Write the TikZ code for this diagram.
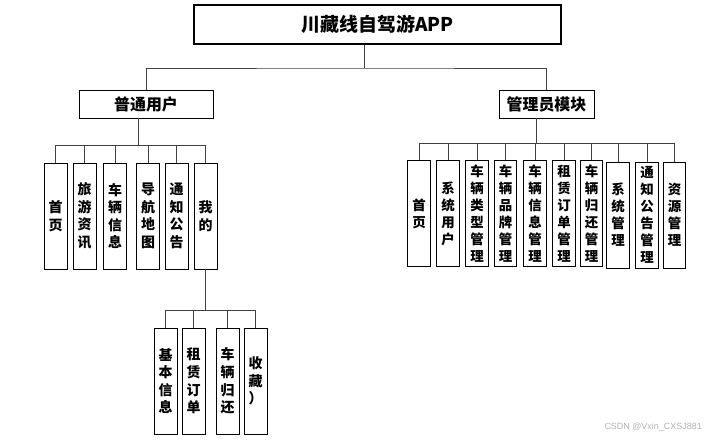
\documentclass[tikz,border=0pt]{standalone}
\usepackage{fontspec}
\setmainfont{Noto Sans CJK SC}
\setsansfont{Liberation Sans}
\begin{document}
\begin{tikzpicture}[x=1bp,y=-1bp,
  box/.style={draw=black,line width=0.9bp,fill=white,inner sep=0pt,font=\bfseries},
  vbox/.style={box,minimum width=23bp,minimum height=106bp,align=center,
    font=\bfseries\fontsize{14}{17.6}\selectfont},
  rbox/.style={box,minimum width=22.7bp,minimum height=106bp,align=center,
    font=\bfseries\fontsize{13.5}{17}\selectfont},
  conn/.style={draw=black!75,line width=0.8bp}]
\useasboundingbox (0,0) rectangle (725,440);
% root
\node[box,line width=1.3bp,minimum width=367bp,minimum height=39bp,
  font=\bfseries\fontsize{19}{22}\selectfont] (root) at (377.5,24.5) {川藏线自驾游APP};
\node[box,minimum width=134bp,minimum height=28bp,
  font=\bfseries\fontsize{16}{19}\selectfont] (user) at (146,104) {普通用户};
\node[box,minimum width=95bp,minimum height=28bp,
  font=\bfseries\fontsize{16}{19}\selectfont] (admin) at (546.5,104) {管理员模块};
\coordinate (rbar) at (364,68);
\draw[conn] (rbar |- root.south) -- (rbar);
\draw[conn] (user.north) |- (rbar) -| (admin.north);
% user children
\node[vbox] (a1) at (55.7,216) {首\\页};
\node[vbox] (a2) at (84.7,216) {旅\\游\\资\\讯};
\node[vbox] (a3) at (115,216) {车\\辆\\信\\息};
\node[vbox] (a4) at (148,216) {导\\航\\地\\图};
\node[vbox] (a5) at (176.5,216) {通\\知\\公\\告};
\node[vbox] (a6) at (205.5,216) {我\\的};
\coordinate (ubar) at (138,145);
\draw[conn] (ubar |- user.south) -- (ubar);
\draw[conn] (a1.north |- ubar) -- (a6.north |- ubar);
\foreach \n in {a1,a2,a3,a4,a5,a6} \draw[conn] (\n.north) -- (\n.north |- ubar);
% mine children
\node[vbox] (b1) at (165.5,381) {基\\本\\信\\息};
\node[vbox] (b2) at (193.5,381) {租\\赁\\订\\单};
\node[vbox] (b3) at (227.5,381) {车\\辆\\归\\还};
\node[vbox] (b4) at (255.5,381) {收\\藏\\）};
\coordinate (mbar) at (205.5,310);
\draw[conn] (a6.south) -- (mbar);
\draw[conn] (b1.north |- mbar) -- (b4.north |- mbar);
\foreach \n in {b1,b2,b3,b4} \draw[conn] (\n.north) -- (\n.north |- mbar);
% admin children
\node[rbox] (c1) at (419,213.7) {首\\页};
\node[rbox] (c2) at (448,213.7) {系\\统\\用\\户};
\node[rbox] (c3) at (477,213.7) {车\\辆\\类\\型\\管\\理};
\node[rbox] (c4) at (505.5,213.7) {车\\辆\\品\\牌\\管\\理};
\node[rbox] (c5) at (535,213.7) {车\\辆\\信\\息\\管\\理};
\node[rbox] (c6) at (564,213.7) {租\\赁\\订\\单\\管\\理};
\node[rbox] (c7) at (591.5,213.7) {车\\辆\\归\\还\\管\\理};
\node[rbox] (c8) at (618,215) {系\\统\\管\\理};
\node[rbox] (c9) at (647,215) {通\\知\\公\\告\\管\\理};
\node[rbox] (c10) at (674.5,215) {资\\源\\管\\理};
\coordinate (abar) at (536,143);
\draw[conn] (abar |- admin.south) -- (abar);
\draw[conn] (c1.north |- abar) -- (c10.north |- abar);
\foreach \n in {c1,c2,c3,c4,c5,c6,c7,c8,c9,c10} \draw[conn] (\n.north) -- (\n.north |- abar);
% watermark
\node[font=\sffamily\fontsize{9}{10}\selectfont,text=black!30,anchor=east,inner sep=0pt] (wm) at (702,427) {CSDN @Vxin\_CXSJ881};
\end{tikzpicture}
\end{document}
